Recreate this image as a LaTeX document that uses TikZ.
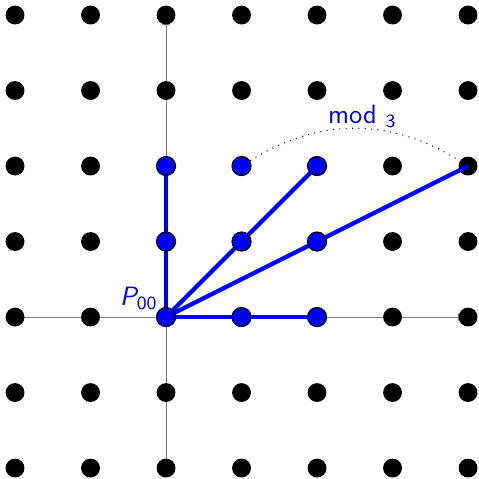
\documentclass[tikz,border=0pt]{standalone}
\usepackage{tikz}
\usetikzlibrary{arrows.meta,positioning}

\begin{document}
\begin{tikzpicture}[font=\sffamily,>=Latex]
      \tikzset{
        dot/.style={circle,fill=black,inner sep=0pt,minimum size=0.25cm},
        bdot/.style={dot,fill=blue,draw=black,line width=0.5pt},
        ray/.style={blue,line width=1.6pt},
        axis/.style={-{Latex[length=3pt,width=3pt]},gray,line width=0.4pt}}
      \useasboundingbox (-2.199,-2.145) rectangle (4.132,4.199);
      % axes
      \coordinate (xl) at (-2,0);
      \coordinate (xr) at (3.97,0);
      \coordinate (yb) at (0,-2);
      \coordinate (yt) at (0,3.97);
      \draw[axis] (xl)--(xr);
      \draw[axis] (yb)--(yt);
      % lattice
      \foreach \x in {-2,...,4}
        \foreach \y in {-2,...,4}
          \node[dot] (d\x\y) at (\x,\y) {};
      % rays from the origin
      \draw[ray] (d00.center)--(d02.center);
      \draw[ray] (d00.center)--(d20.center);
      \draw[ray] (d00.center)--(d22.center);
      \draw[ray] (d00.center)--(d42.center);
      \foreach \x/\y in {0/0,0/1,0/2,1/0,2/0,1/1,2/2,2/1,1/2}
        \node[bdot] (b\x\y) at (\x,\y) {};
      \draw[blue,dotted] (b12) to[bend left=32]
        node[midway,above,inner sep=0pt,xshift=0.1cm]{mod \textsubscript{3}} (d42);
      \node[blue] (p00) at (-0.36,0.24) {\itshape P\textsubscript{\upshape 00}};
    \end{tikzpicture}
\end{document}
